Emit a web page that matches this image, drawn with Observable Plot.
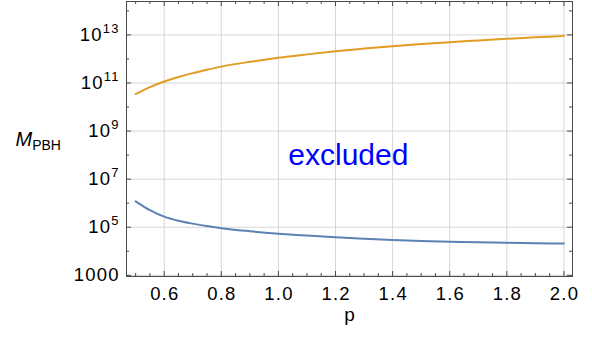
<!DOCTYPE html>
<html><head><meta charset="utf-8">
<script src="https://cdn.jsdelivr.net/npm/d3@7"></script>
<script src="https://cdn.jsdelivr.net/npm/@observablehq/plot@0.6"></script>
<style>html,body{margin:0;padding:0;background:#fff} svg{display:block}</style>
</head><body><div id="chart"></div>
<script>
// ---- data ----
const p      = [0.5, 0.55, 0.6, 0.65, 0.7, 0.75, 0.8, 0.9, 1.0, 1.1, 1.2, 1.3, 1.4, 1.5, 1.6, 1.7, 1.8, 1.9, 2.0];
const upperM = [3.47e10, 6.76e10, 1.15e11, 1.78e11, 2.57e11, 3.55e11, 4.79e11, 7.59e11, 1.12e12, 1.55e12, 2.09e12, 2.69e12, 3.39e12, 4.17e12, 5.01e12, 5.89e12, 6.92e12, 7.94e12, 9.12e12];
const lowerM = [1.2e6, 5.13e5, 2.75e5, 1.86e5, 1.41e5, 1.12e5, 9.1e4, 6.8e4, 5.4e4, 4.5e4, 3.8e4, 3.3e4, 2.95e4, 2.7e4, 2.5e4, 2.35e4, 2.24e4, 2.14e4, 2.09e4];
const xTicks = [0.6, 0.8, 1.0, 1.2, 1.4, 1.6, 1.8, 2.0];
const xMinorTicks = [0.5, 0.55, 0.65, 0.7, 0.75, 0.85, 0.9, 0.95, 1.05, 1.1, 1.15, 1.25, 1.3, 1.35, 1.45, 1.5, 1.55, 1.65, 1.7, 1.75, 1.85, 1.9, 1.95];
const yTicks = [1e3, 1e5, 1e7, 1e9, 1e11, 1e13];
const yMinorTicks = [1e4, 1e6, 1e8, 1e10, 1e12, 1e14];
const xLabel = ["p"];
const yLabel = ["M_PBH"];
const regionLabel = ["excluded"];

const upperRows = p.map((v, i) => ({p: v, M: upperM[i]}));
const lowerRows = p.map((v, i) => ({p: v, M: lowerM[i]}));

const W = 592, H = 339, mL = 126, mR = 20, mT = 1, mB = 63;
const fh = H - mT - mB, fw = W - mL - mR;
const frameColor = "#4a4a4a";
const gridColor = "#d6d6d6";
const FS = 18.5;

const chart = Plot.plot({
  width: W, height: H,
  marginLeft: mL, marginRight: mR, marginTop: mT, marginBottom: mB,
  style: {fontFamily: "'Liberation Sans', Arial, sans-serif", fontSize: FS + "px", color: "#000", background: "#fff"},
  x: {domain: [0.468, 2.03]},
  y: {type: "log", domain: [Math.pow(10, 2.95), Math.pow(10, 14.39)]},
  marks: [
    Plot.ruleX(xTicks, {stroke: gridColor, strokeWidth: 1}),
    Plot.ruleY(yTicks, {stroke: gridColor, strokeWidth: 1}),
    Plot.line(upperRows, {x: "p", y: "M", stroke: "#E19C24", strokeWidth: 2, curve: "monotone-x"}),
    Plot.line(lowerRows, {x: "p", y: "M", stroke: "#5E81B5", strokeWidth: 2, curve: "monotone-x"}),
    // inward ticks, bottom/top
    Plot.ruleX(xTicks, {insetTop: fh - 5, stroke: frameColor}),
    Plot.ruleX(xTicks, {insetBottom: fh - 5, stroke: frameColor}),
    Plot.ruleX(xMinorTicks, {insetTop: fh - 3, stroke: frameColor}),
    Plot.ruleX(xMinorTicks, {insetBottom: fh - 3, stroke: frameColor}),
    // inward ticks, left/right
    Plot.ruleY(yTicks, {insetRight: fw - 5, stroke: frameColor}),
    Plot.ruleY(yTicks, {insetLeft: fw - 5, stroke: frameColor}),
    Plot.ruleY(yMinorTicks, {insetRight: fw - 3, stroke: frameColor}),
    Plot.ruleY(yMinorTicks, {insetLeft: fw - 3, stroke: frameColor}),
    Plot.frame({stroke: frameColor, strokeWidth: 1}),
    Plot.axisX(xTicks, {tickSize: 0, tickPadding: 10, fontSize: FS, tickFormat: d3.format(".1f"), label: null}),
    Plot.axisY(yTicks, {tickSize: 0, tickPadding: 8, fontSize: FS, label: null,
      tickFormat: d => d === 1000 ? "1000" : "10^" + Math.round(Math.log10(d))}),
    Plot.text(regionLabel, {x: () => 1.245, y: () => 1e8, text: d => d, fill: "#0000ff", fontSize: 30}),
    Plot.text(xLabel, {frameAnchor: "bottom", dy: 44, text: d => d, fontSize: 19}),
    Plot.text(yLabel, {frameAnchor: "left", dx: -111, dy: 1, textAnchor: "start", text: d => d, fontSize: 20})
  ]
});

// wider tick-label spacing, as in the reference
d3.select(chart).selectAll('g[aria-label="x-axis tick label"] text').attr("letter-spacing", "1.2px").attr("dx", "0.6");
d3.select(chart).selectAll('g[aria-label="y-axis tick label"] text').attr("letter-spacing", "1.2px").attr("dx", "1.2");

// superscript exponents on y tick labels; subscript on axis label
d3.select(chart).selectAll("text").each(function () {
  const t = this.textContent;
  const s = d3.select(this);
  if (/^10\^\d+$/.test(t)) {
    const [b, e] = t.split("^");
    s.text(null);
    s.append("tspan").text(b);
    s.append("tspan").attr("font-size", "13px").attr("dy", "-8").text(e);
  } else if (t === yLabel[0]) {
    const [b, sub] = t.split("_");
    s.text(null);
    s.append("tspan").attr("font-style", "italic").text(b);
    s.append("tspan").attr("font-size", "14px").attr("dy", "4").text(sub);
  }
});

document.getElementById("chart").appendChild(chart);
</script>
</body></html>
